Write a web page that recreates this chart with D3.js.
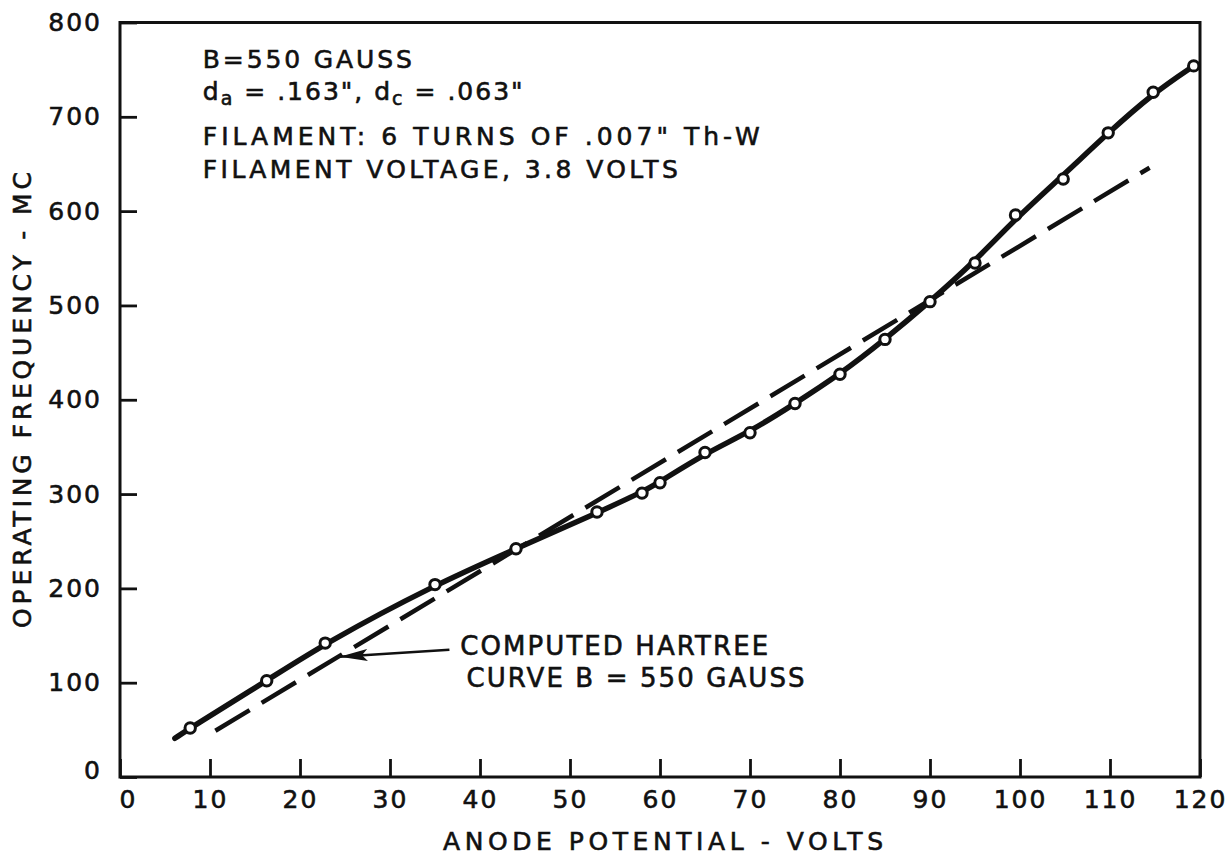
<!DOCTYPE html>
<html>
<head>
<meta charset="utf-8">
<script src="https://cdn.jsdelivr.net/npm/d3@7"></script>
<style>
  body { margin: 0; background: #fff; }
  text { font-family: 'DejaVu Sans', sans-serif; fill: #111; stroke: #111; stroke-width: 0.6px; }
</style>
</head>
<body>
<div id="chart"></div>
<script>
// measured points, anode volts vs operating frequency (MC)
const voltsObs = [7.8, 16.3, 22.8, 35, 44, 53, 58, 60, 65, 70, 75, 80, 85, 90, 95, 99.5, 104.8, 109.8, 114.8, 119.3];
const freqObs = [52, 102, 142, 204, 242, 281, 301, 312, 344, 365, 396, 427, 464, 504, 545, 596, 634, 683, 726, 754];

// hand drawn fit line (a little smoother than the points)
const fitVolts = [6.1, 7.8, 16.3, 22.8, 35, 44, 53, 58, 60, 65, 70, 75, 80, 85, 90, 95, 99.5, 104.8, 109.8, 114.8, 119.3];
const fitFreq = [41, 52, 102, 142, 204, 242, 280, 302, 313, 343, 366, 396, 427, 464, 504, 547, 592, 638, 683, 725, 754];

// computed hartree curve (dashed)
const hartreeVolts = [10.6, 114.4];
const hartreeFreq = [49, 646];

const xTicks = [0, 10, 20, 30, 40, 50, 60, 70, 80, 90, 100, 110, 120];
const yTicks = [0, 100, 200, 300, 400, 500, 600, 700, 800];

const notes = [
  'B=550  GAUSS',
  null, // d_a line built with subscripts
  'FILAMENT: 6 TURNS OF .007" Th-W',
  'FILAMENT VOLTAGE, 3.8 VOLTS'
];

let W = 1231, H = 858;
let svg = d3.select('#chart').append('svg')
  .attr('width', W).attr('height', H);

let x = d3.scaleLinear().domain([0, 120]).range([120, 1200]);
let y = d3.scaleLinear().domain([0, 800]).range([777, 22.5]);

// frame
svg.append('rect')
  .attr('x', x(0)).attr('y', y(800))
  .attr('width', x(120) - x(0)).attr('height', y(0) - y(800))
  .attr('fill', 'none').attr('stroke', '#111').attr('stroke-width', 3);

let xAxis = d3.axisBottom(x).tickValues(xTicks).tickSize(-18).tickPadding(13);
let yAxis = d3.axisLeft(y).tickValues(yTicks).tickSize(-17).tickPadding(18);

let gx = svg.append('g').attr('transform', `translate(0, ${y(0)})`).call(xAxis);
let gy = svg.append('g').attr('transform', `translate(${x(0)}, 0)`).call(yAxis);
[gx, gy].forEach(g => {
  g.select('.domain').remove();
  g.selectAll('.tick line').attr('stroke', '#111').attr('stroke-width', 2.8);
  g.selectAll('.tick text')
    .style('font-size', '25px')
    .style('letter-spacing', '2px')
    .attr('fill', '#111');
});
gx.selectAll('.tick text').filter(d => d === 0).attr('dx', 8);
gy.selectAll('.tick text').filter(d => d === 0).attr('dy', '0.05em');

// axis titles
svg.append('text')
  .attr('x', 663).attr('y', 850)
  .attr('text-anchor', 'middle')
  .style('font-size', '25px')
  .attr('textLength', 440).attr('lengthAdjust', 'spacing')
  .text('ANODE  POTENTIAL - VOLTS');

svg.append('text')
  .attr('transform', 'translate(31, 400) rotate(-90)')
  .attr('text-anchor', 'middle')
  .style('font-size', '25px')
  .attr('textLength', 456).attr('lengthAdjust', 'spacing')
  .text('OPERATING  FREQUENCY - MC');

// dashed computed curve
let line = d3.line()
  .x(d => x(d[0]))
  .y(d => y(d[1]));

svg.append('path')
  .datum(d3.zip(hartreeVolts, hartreeFreq))
  .attr('d', line)
  .attr('fill', 'none')
  .attr('stroke', '#111')
  .attr('stroke-width', 4.5)
  .attr('stroke-dasharray', '40 14');

// measured fit
svg.append('path')
  .datum(d3.zip(fitVolts, fitFreq))
  .attr('d', line.curve(d3.curveBasis))
  .attr('fill', 'none')
  .attr('stroke', '#111')
  .attr('stroke-width', 5.5)
  .attr('stroke-linecap', 'round');

svg.selectAll('.pt')
  .data(d3.zip(voltsObs, freqObs))
  .enter()
  .append('circle')
  .attr('class', 'pt')
  .attr('cx', d => x(d[0]))
  .attr('cy', d => y(d[1]))
  .attr('r', 5.2)
  .attr('fill', '#fff')
  .attr('stroke', '#111')
  .attr('stroke-width', 3);

// arrow to the dashed curve
svg.append('defs').append('marker')
  .attr('id', 'arrow')
  .attr('viewBox', '0 0 10 10')
  .attr('preserveAspectRatio', 'none')
  .attr('refX', 10).attr('refY', 5)
  .attr('markerWidth', 28).attr('markerHeight', 12)
  .attr('markerUnits', 'userSpaceOnUse')
  .attr('orient', 'auto')
  .append('path')
  .attr('d', 'M0,0 L10,5 L0,10 L2,5 Z')
  .attr('fill', '#111');

svg.append('line')
  .attr('x1', x(36.6)).attr('y1', y(135))
  .attr('x2', x(24.4)).attr('y2', y(127.5))
  .attr('stroke', '#111').attr('stroke-width', 2.5)
  .attr('marker-end', 'url(#arrow)');

svg.append('text')
  .attr('x', x(37.8)).attr('y', y(129.5))
  .style('font-size', '26px')
  .attr('textLength', 308).attr('lengthAdjust', 'spacing')
  .text('COMPUTED  HARTREE');
svg.append('text')
  .attr('x', x(38.5)).attr('y', y(95.5))
  .style('font-size', '26px')
  .attr('textLength', 338).attr('lengthAdjust', 'spacing')
  .text('CURVE  B = 550  GAUSS');

// info block, top left
let noteX = x(9.2);
svg.append('text')
  .attr('x', noteX).attr('y', 68)
  .style('font-size', '25px')
  .attr('textLength', 209).attr('lengthAdjust', 'spacing')
  .text(notes[0]);

let t2 = svg.append('text')
  .attr('x', noteX).attr('y', 100)
  .style('font-size', '25px')
  .style('letter-spacing', '2px');
t2.append('tspan').text('d');
t2.append('tspan').attr('dy', 5).style('font-size', '19px').text('a');
t2.append('tspan').attr('dy', -5).text(' = .163",  d');
t2.append('tspan').attr('dy', 5).style('font-size', '19px').text('c');
t2.append('tspan').attr('dy', -5).text(' = .063"');

svg.append('text')
  .attr('x', noteX).attr('y', 145)
  .style('font-size', '25px')
  .attr('textLength', 557).attr('lengthAdjust', 'spacing')
  .text(notes[2]);
svg.append('text')
  .attr('x', noteX).attr('y', 178)
  .style('font-size', '25px')
  .attr('textLength', 475).attr('lengthAdjust', 'spacing')
  .text(notes[3]);
</script>
</body>
</html>
